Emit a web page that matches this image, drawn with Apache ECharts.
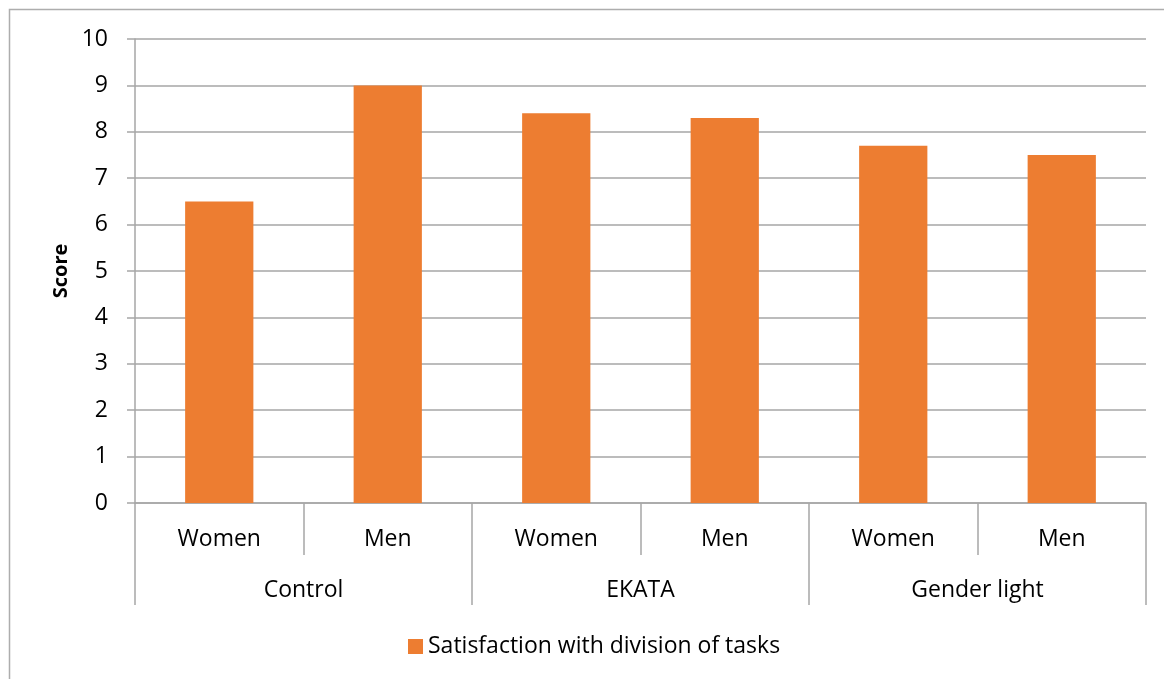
<!DOCTYPE html>
<html>
<head>
<meta charset="utf-8">
<script src="https://cdn.jsdelivr.net/npm/echarts@6/dist/echarts.min.js"></script>
<style>
  html, body { margin: 0; padding: 0; background: #fff; }
  #chart { width: 1164px; height: 679px; }
</style>
</head>
<body>
<div id="chart"></div>
<script>
// Scores by sex within each programme group
const subCategories = ['Women', 'Men', 'Women', 'Men', 'Women', 'Men'];
const groups = ['Control', 'EKATA', 'Gender light'];
const satisfaction = [6.5, 9.0, 8.4, 8.3, 7.7, 7.5];
const seriesName = 'Satisfaction with division of tasks';

const FONT = '"Open Sans", "Liberation Sans", sans-serif';
const GRID_COLOR = '#A6A6A6';
const BAR_COLOR = '#ED7D31';
const LABEL_SIZE = 23;

const chart = echarts.init(document.getElementById('chart'), null, { renderer: 'canvas' });

chart.setOption({
  animation: false,
  backgroundColor: '#fff',
  textStyle: { fontFamily: FONT },
  graphic: [{
    type: 'rect',
    shape: { x: 9.5, y: 9.5, width: 1170, height: 680 },
    style: { fill: 'none', stroke: '#ADADAD', lineWidth: 1.5 },
    silent: true
  }],
  grid: { left: 135, right: 18, top: 39, bottom: 176 },
  legend: {
    data: [seriesName],
    top: 630,
    left: 403,
    itemWidth: 15,
    itemHeight: 15,
    itemGap: 7,
    icon: 'rect',
    textStyle: { fontSize: LABEL_SIZE, color: '#000', fontFamily: FONT }
  },
  xAxis: [
    {
      type: 'category',
      position: 'bottom',
      data: subCategories,
      axisLine: { show: true, lineStyle: { color: GRID_COLOR, width: 1.5 } },
      axisTick: { show: true, length: 52, alignWithLabel: false, lineStyle: { color: GRID_COLOR, width: 1.5 } },
      axisLabel: { fontSize: LABEL_SIZE, color: '#000', margin: 25, fontFamily: FONT }
    },
    {
      type: 'category',
      position: 'bottom',
      data: groups,
      axisLine: { show: false },
      axisTick: { show: true, length: 102, alignWithLabel: false, lineStyle: { color: GRID_COLOR, width: 1.5 } },
      axisLabel: { fontSize: LABEL_SIZE, color: '#000', margin: 76, fontFamily: FONT }
    }
  ],
  yAxis: {
    type: 'value',
    min: 0,
    max: 10,
    interval: 1,
    name: 'Score',
    nameLocation: 'middle',
    nameRotate: 90,
    nameGap: 64,
    nameTextStyle: { fontSize: 20, fontWeight: 'bold', color: '#000', fontFamily: FONT },
    axisLine: { show: true, lineStyle: { color: GRID_COLOR, width: 1.5 } },
    axisTick: { show: true, length: 8, lineStyle: { color: GRID_COLOR, width: 1.5 } },
    axisLabel: { fontSize: LABEL_SIZE, color: '#000', margin: 27, fontFamily: FONT },
    splitLine: { show: true, lineStyle: { color: GRID_COLOR, width: 1.5 } }
  },
  series: [{
    name: seriesName,
    type: 'bar',
    xAxisIndex: 0,
    data: satisfaction,
    barWidth: '40.5%',
    itemStyle: { color: BAR_COLOR }
  }]
});
</script>
</body>
</html>
